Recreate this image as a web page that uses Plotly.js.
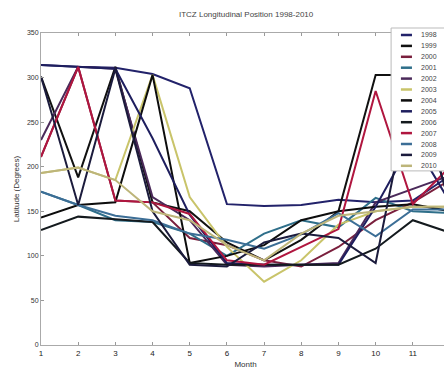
<!DOCTYPE html>
<html><head><meta charset="utf-8">
<script src="https://cdn.plot.ly/plotly-3.0.1.min.js"></script>
<style>html,body{margin:0;padding:0;overflow:hidden;background:#fff;width:444px;height:371px}#chart{width:460px;height:385px}</style>
</head><body><div id="chart"></div>
<script>
const months = [1,2,3,4,5,6,7,8,9,10,11,12];
const years = ['1998','1999','2000','2001','2002','2003','2004','2005','2006','2007','2008','2009','2010'];
const v1998 = [314, 312, 311, 304, 288, 158, 156, 157, 163, 160, 162, 190];
const v1999 = [301, 188, 312, 160, 150, 115, 95, 118, 150, 303, 303, 158];
const v2000 = [211, 312, 162, 160, 120, 112, 95, 88, 110, 140, 160, 185];
const v2001 = [172, 157, 140, 138, 125, 100, 125, 140, 132, 165, 150, 148];
const v2002 = [230, 312, 310, 166, 140, 90, 88, 90, 92, 160, 175, 190];
const v2003 = [193, 199, 185, 303, 166, 110, 71, 95, 135, 150, 155, 155];
const v2004 = [143, 157, 160, 303, 92, 100, 112, 140, 150, 155, 158, 150];
const v2005 = [314, 312, 310, 232, 146, 92, 90, 90, 90, 155, 230, 160];
const v2006 = [129, 144, 141, 138, 92, 90, 90, 90, 90, 108, 140, 126];
const v2007 = [211, 312, 162, 160, 147, 95, 90, 110, 130, 285, 158, 200];
const v2008 = [172, 157, 145, 140, 125, 118, 108, 124, 148, 122, 152, 152];
const v2009 = [301, 157, 310, 150, 90, 88, 115, 125, 120, 92, 300, 158];
const v2010 = [193, 199, 185, 150, 140, 112, 95, 125, 145, 150, 155, 155];
const seriesValues = [v1998,v1999,v2000,v2001,v2002,v2003,v2004,v2005,v2006,v2007,v2008,v2009,v2010];
const colors = ['#22226a','#111111','#7a1f3d','#2f6f8a','#4b2a5a','#c9c46a','#0d0d0d','#1e1e5e','#141a1e','#b0163f','#3c6e96','#1b1b3c','#bdb57a'];

const traces = years.map((y,i)=>({
  x: months, y: seriesValues[i], type:'scatter', mode:'lines', name:y,
  line:{color:colors[i], width:2}, showlegend:false
}));

// manual legend (compact MATLAB-style)
const shapes = [{type:'rect', xref:'paper', yref:'paper', x0:0.856, x1:1.05, y0:0.558, y1:1.016,
  fillcolor:'#ffffff', line:{color:'#bbbbbb', width:1}, layer:'above'}];
const annotations = [];
const pxToPaperY = py => (345-py)/312;
years.forEach((y,i)=>{
  const py = 35 + i*10.9;
  shapes.push({type:'line', xref:'paper', yref:'paper', x0:0.880, x1:0.907, y0:pxToPaperY(py), y1:pxToPaperY(py),
    line:{color:colors[i], width:2.5}, layer:'above'});
  annotations.push({xref:'paper', yref:'paper', x:0.925, y:pxToPaperY(py), text:y, showarrow:false,
    xanchor:'left', yanchor:'middle', font:{size:7, color:'#444', family:'Liberation Sans, Arial, sans-serif'}});
});

const layout = {
  width:460, height:385,
  margin:{l:41, r:10, t:33, b:40},
  paper_bgcolor:'#ffffff', plot_bgcolor:'#ffffff',
  font:{family:'Liberation Sans, Arial, sans-serif', size:8, color:'#333'},
  title:{text:'ITCZ Longitudinal Position 1998-2010', x:0.535, xanchor:'center', y:0.97, yref:'container', font:{size:8, color:'#444'}},
  xaxis:{range:[1,12], tickvals:months, ticks:'inside', ticklen:3, tickcolor:'#999', showgrid:false, zeroline:false,
    showline:true, linecolor:'#aaa', mirror:'ticks', tickfont:{size:8, color:'#222'},
    title:{text:'Month', standoff:4, font:{size:8, color:'#333'}}},
  yaxis:{range:[0,350], tickvals:[0,50,100,150,200,250,300,350], ticks:'inside', ticklen:3, tickcolor:'#999',
    showgrid:false, zeroline:false, showline:true, linecolor:'#aaa', mirror:'ticks', tickfont:{size:7, color:'#333'},
    title:{text:'Latitude (Degrees)', standoff:6, font:{size:8, color:'#333'}}},
  shapes, annotations, showlegend:false
};
Plotly.newPlot('chart', traces, layout, {displayModeBar:false, staticPlot:true});
</script></body></html>
